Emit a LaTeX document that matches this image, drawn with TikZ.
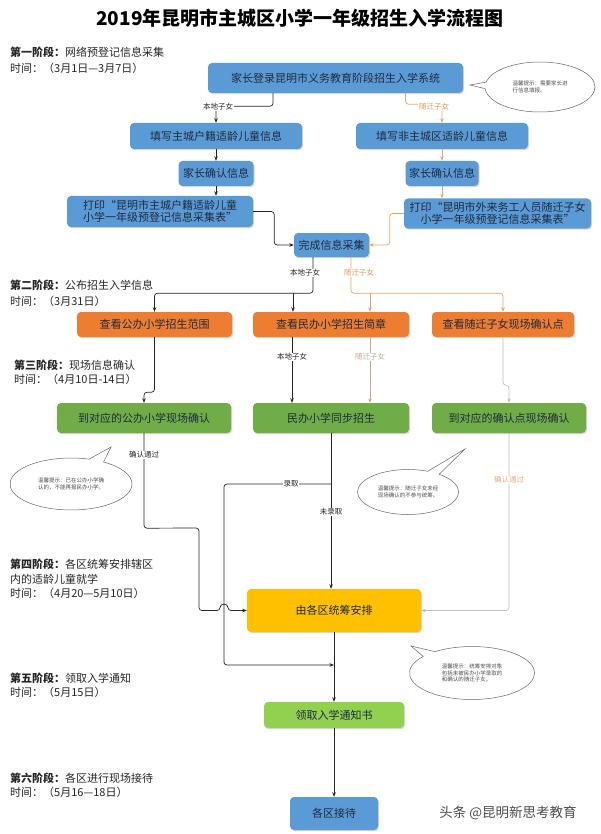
\documentclass[tikz,border=0pt]{standalone}
\usepackage{fontspec}
\setmainfont{Noto Sans CJK SC}
\usetikzlibrary{shapes.callouts,shadows,arrows.meta}
\definecolor{bluebox}{HTML}{5B9BD5}
\definecolor{orangebox}{HTML}{ED7D31}
\definecolor{greenbox}{HTML}{70AD47}
\definecolor{yellowbox}{HTML}{FFC000}
\definecolor{lightgreen}{HTML}{92D050}
\definecolor{boxtext}{HTML}{1E2A40}
\definecolor{linec}{HTML}{262626}
\definecolor{orangeline}{HTML}{E8A468}
\definecolor{greyline}{HTML}{BFBFBF}
\definecolor{orangelab}{HTML}{E39A5A}
\definecolor{tanlab}{HTML}{C8A888}
\tikzset{
  box/.style={rounded corners=4pt, text=boxtext, font=\fontsize{11}{13}\selectfont,
    align=center, inner sep=2pt,
    drop shadow={shadow xshift=1pt, shadow yshift=-1.2pt, opacity=0.3}},
  bluen/.style={box, fill=bluebox},
  orangen/.style={box, fill=orangebox},
  greenn/.style={box, fill=greenbox},
  conn/.style={draw=linec, line width=0.7pt, rounded corners=3pt, -{Stealth[length=4.5pt,width=3.5pt]}},
  conno/.style={conn, draw=orangeline},
  conng/.style={conn, draw=greyline},
  lab/.style={font=\fontsize{7.5}{8}\selectfont, fill=white, inner sep=0.6pt, text=linec},
  stage/.style={anchor=west, font=\fontsize{11}{13}\selectfont, inner sep=0pt, text=black!85},
  bubble/.style={ellipse callout, draw=black!60, line width=0.5pt, fill=white, align=left,
    font=\fontsize{5.5}{6.5}\selectfont, text=black!70, inner sep=1pt},
}
\begin{document}
\begin{tikzpicture}[x=1pt,y=-1pt]
\useasboundingbox (0,0) rectangle (600,834);
\fill[white] (0,0) rectangle (600,834);

% title
\node (title) at (300,18) {\fontsize{19}{22}\selectfont\bfseries 2019年昆明市主城区小学一年级招生入学流程图};

% stage texts
\node[stage] (s1a) at (10,52) {\textbf{第一阶段：}网络预登记信息采集};
\node[stage] (s1b) at (10,68) {时间：（3月1日—3月7日）};
\node[stage] (s2a) at (10,285) {\textbf{第二阶段：}公布招生入学信息};
\node[stage] (s2b) at (10,301) {时间：（3月31日）};
\node[stage] (s3a) at (14,365) {\textbf{第三阶段：}现场信息确认};
\node[stage] (s3b) at (14,379) {时间：（4月10日-14日）};
\node[stage] (s4a) at (10,564) {\textbf{第四阶段：}各区统筹安排辖区};
\node[stage] (s4b) at (10,579) {内的适龄儿童就学};
\node[stage] (s4c) at (10,593) {时间：（4月20—5月10日）};
\node[stage] (s5a) at (10,678) {\textbf{第五阶段：}领取入学通知};
\node[stage] (s5b) at (10,692) {时间：（5月15日）};
\node[stage] (s6a) at (10,778) {\textbf{第六阶段：}各区进行现场接待};
\node[stage] (s6b) at (10,792) {时间：（5月16—18日）};

% boxes
\node[bluen, minimum width=255pt, minimum height=30pt] (A) at (335.5,78) {家长登录昆明市义务教育阶段招生入学系统};
\node[bluen, minimum width=172pt, minimum height=26pt] (B) at (216,136) {填写主城户籍适龄儿童信息};
\node[bluen, minimum width=172pt, minimum height=26pt] (C) at (442,136) {填写非主城区适龄儿童信息};
\node[bluen, minimum width=75pt, minimum height=25pt] (D) at (216,173.5) {家长确认信息};
\node[bluen, minimum width=73pt, minimum height=25pt] (E) at (442,173.5) {家长确认信息};
\node[bluen, minimum width=186pt, minimum height=31pt, font=\fontsize{11}{12.5}\selectfont] (F) at (160,211.5) {打印“昆明市主城户籍适龄儿童\\小学一年级预登记信息采集表”};
\node[bluen, minimum width=187pt, minimum height=30pt, font=\fontsize{11}{12.5}\selectfont] (G) at (497.5,213.5) {打印“昆明市外来务工人员随迁子女\\小学一年级预登记信息采集表”};
\node[bluen, minimum width=75pt, minimum height=24pt] (H) at (331.5,245) {完成信息采集};

\node[orangen, minimum width=155pt, minimum height=25pt] (I) at (154.5,324.5) {查看公办小学招生范围};
\node[orangen, minimum width=156pt, minimum height=25pt] (J) at (331,324.5) {查看民办小学招生简章};
\node[orangen, minimum width=142pt, minimum height=25pt] (K) at (503,324.5) {查看随迁子女现场确认点};

\node[greenn, minimum width=174pt, minimum height=30pt] (L) at (144,418) {到对应的公办小学现场确认};
\node[greenn, minimum width=156pt, minimum height=30pt] (M) at (331,418) {民办小学同步招生};
\node[greenn, minimum width=154pt, minimum height=30pt] (N) at (509,418) {到对应的确认点现场确认};

\node[box, fill=yellowbox, minimum width=174pt, minimum height=43pt] (P) at (334,610.5) {由各区统筹安排};
\node[box, fill=lightgreen, minimum width=140pt, minimum height=26pt] (Q) at (334,715) {领取入学通知书};
\node[bluen, minimum width=88pt, minimum height=33pt] (R) at (334,813.5) {各区接待};

% bubbles
\node[bubble, minimum width=110pt, minimum height=50pt, callout absolute pointer={(470,85)}] (b1) at (540,87) {温馨提示：需要家长进\\行信息填报。};
\node[bubble, minimum width=122pt, minimum height=52pt, callout absolute pointer={(111,447)}] (b2) at (71,484) {温馨提示：已在公办小学确\\认的，不能再报民办小学。};
\node[bubble, minimum width=101pt, minimum height=45pt, callout absolute pointer={(465,449)}] (b3) at (408,492) {温馨提示：随迁子女未经\\现场确认的不参与统筹。};
\node[bubble, minimum width=125pt, minimum height=53pt, callout absolute pointer={(411,646)}] (b4) at (472,673) {温馨提示：统筹安排对象\\包括未被民办小学录取的\\和确认的随迁子女。};

% watermark
\node[text=black!70, font=\fontsize{13.5}{15}\selectfont] (wm) at (508,813) {头条 @昆明新思考教育};

% connectors stage 1
\draw[conn] ([xshift=-62.5pt]A.south) -- ++(0,13) -| (B.north);
\node[lab] (lA1) at (218,107) {本地子女};
\draw[conno] ([xshift=70pt]A.south) -- ++(0,11) -| (C.north);
\node[lab, text=orangelab] (lA2) at (434,107) {随迁子女};
\draw[conn] (B.south) -- (D.north);
\draw[conno] (C.south) -- (E.north);
\draw[conn] (D.south) -- (D.south |- F.north);
\draw[conno] (E.south) -- (E.south |- G.north);
\draw[conn] (F.east) -- ++(21,0) |- (H.west);
\draw[conno] (G.west) -- ++(-14,0) |- (H.east);

% stage 2
\draw[conn] ([xshift=-18.5pt]H.south) -- ++(0,36) -| (I.north);
\draw[conn] ([xshift=-38pt]J.north) ++(0,-19) -- ([xshift=-38pt]J.north);
\node[lab] (lH1) at (305,273) {本地子女};
\draw[conno] ([xshift=19.5pt]H.south) -- ++(0,36) -| (K.north);
\draw[conno] ([xshift=39pt]J.north) ++(0,-19) -- ([xshift=39pt]J.north);
\node[lab, text=orangelab] (lH2) at (359,273) {随迁子女};

% stage 3
\draw[conn] (I.south) -- ++(0,55) -| (L.north);
\draw[conn] ([xshift=-39pt]J.south) -- ([xshift=-39pt]M.north);
\node[lab] (lJ1) at (292,357) {本地子女};
\draw[conn, draw=tanlab] ([xshift=39pt]J.south) -- ([xshift=39pt]M.north);
\node[lab, text=tanlab] (lJ2) at (370,357) {随迁子女};
\draw[conng] (K.south) -- ++(0,48) -| (N.north);

% stage 4
\draw[conn] (L.south) -- ++(0,95) -- (199,528) -- (199,610.5) -- (220,610.5) .. controls (220,603) and (228,603) .. (228,610.5) -- (P.west);
\node[lab] (lL) at (144,455) {确认通过};
\draw[conn] (M.south) -- (M.south |- P.north);
\node[lab] (lM2) at (331,512) {未录取};
\draw[conn] (M.south |- 0,484) -- (224,484) -- (224,665) -- (Q.north |- 0,665);
\node[lab] (lM1) at (291,484) {录取};
\draw[conng] (N.south) |- (P.east);
\node[lab, text=orangelab!80] (lN) at (509,480) {确认通过};

% stage 5, 6
\draw[conn] (P.south) -- (Q.north);
\draw[conn] (Q.south) -- (R.north);
\end{tikzpicture}
\end{document}
